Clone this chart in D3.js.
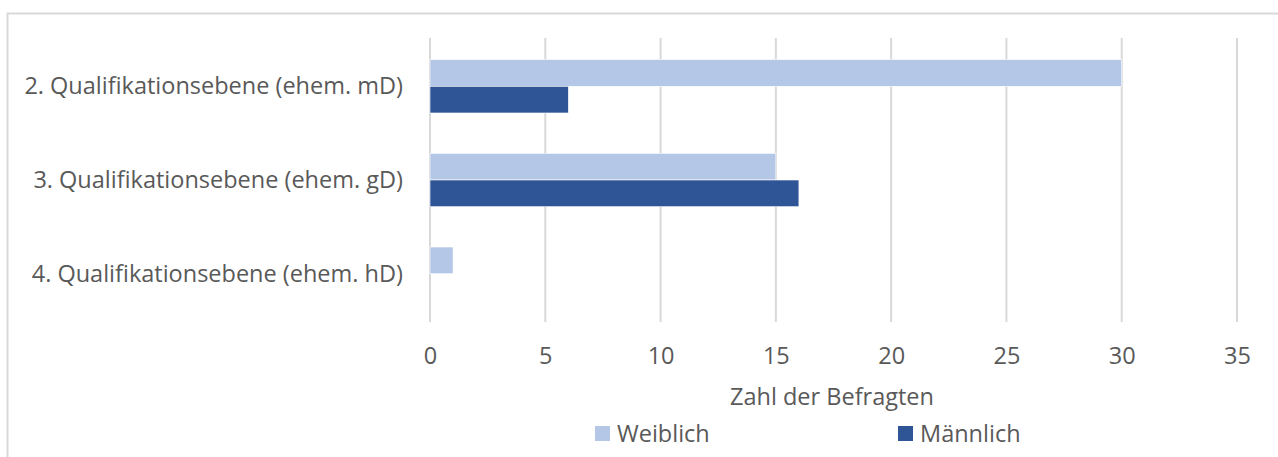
<!DOCTYPE html>
<html>
<head>
<meta charset="utf-8">
<script src="https://cdn.jsdelivr.net/npm/d3@7"></script>
<style>
  body { margin: 0; background: #fff; }
  svg { display: block; font-family: "Open Sans", sans-serif; }
</style>
</head>
<body>
<div id="chart"></div>
<script>
const categories = [
  "2. Qualifikationsebene (ehem. mD)",
  "3. Qualifikationsebene (ehem. gD)",
  "4. Qualifikationsebene (ehem. hD)"
];
const seriesNames = ["Weiblich", "Männlich"];
const weiblich = [30, 15, 1];
const maennlich = [6, 16, 0];
const xTicks = [0, 5, 10, 15, 20, 25, 30, 35];
const colors = ["#b4c7e7", "#2f5597"];

const W = 1278, H = 457;
const plotL = 430, plotR = 1237, plotT = 38, plotB = 322;
const fontSize = 23.5;

const svg = d3.select("#chart").append("svg").attr("width", W).attr("height", H);

// Rahmen (nur oben und links sichtbar)
svg.append("path")
    .attr("d", `M7.5,${H} V13.5 H${W}`)
    .attr("fill", "none").attr("stroke", "#d9d9d9").attr("stroke-width", 2);

const x = d3.scaleLinear().domain([0, 35]).range([plotL, plotR]);
const y = d3.scaleBand().domain(categories).range([plotT, plotB]).paddingInner(0.43).paddingOuter(0.23);
const ySub = d3.scaleBand().domain(seriesNames).range([0, y.bandwidth()]);

// Gitterlinien
svg.append("g").selectAll("line").data(xTicks).join("line")
    .attr("x1", d => x(d)).attr("x2", d => x(d))
    .attr("y1", plotT).attr("y2", plotB)
    .attr("stroke", "#d9d9d9").attr("stroke-width", 2);

// Balken
const rows = categories.map((c, i) => ({ c, vals: [weiblich[i], maennlich[i]] }));
const groups = svg.append("g").selectAll("g").data(rows).join("g")
    .attr("transform", d => `translate(0,${y(d.c)})`);
groups.selectAll("rect").data(d => d.vals.map((v, j) => ({ v, s: seriesNames[j], j })))
    .join("rect")
    .attr("x", x(0))
    .attr("y", d => ySub(d.s))
    .attr("width", d => x(d.v) - x(0))
    .attr("height", ySub.bandwidth())
    .attr("fill", d => colors[d.j])
    .attr("stroke", d => d.v > 0 ? "#fff" : "none")
    .attr("stroke-width", 0.6);

// Kategorienbeschriftung
svg.append("g").selectAll("text").data(categories).join("text")
    .attr("x", 403)
    .attr("y", d => y(d) + y.bandwidth() / 2)
    .attr("dy", "0.35em")
    .attr("text-anchor", "end")
    .attr("font-size", fontSize)
    .attr("fill", "#595959")
    .text(d => d);

// x-Achse
const xAxis = svg.append("g")
    .attr("transform", `translate(0,${plotB})`)
    .call(d3.axisBottom(x).tickValues(xTicks).tickSize(0).tickPadding(25));
xAxis.select(".domain").remove();
xAxis.selectAll("text").attr("font-size", fontSize).attr("fill", "#595959").attr("font-family", "'Open Sans', sans-serif");

// Achsentitel
svg.append("text")
    .attr("x", 832)
    .attr("y", 405)
    .attr("text-anchor", "middle")
    .attr("font-size", fontSize)
    .attr("fill", "#595959")
    .text("Zahl der Befragten");

// Legende
const legendX = [595, 898];
const legend = svg.append("g").selectAll("g").data(seriesNames).join("g")
    .attr("transform", (d, i) => `translate(${legendX[i]},426)`);
legend.append("rect").attr("width", 15).attr("height", 15).attr("fill", (d, i) => colors[i]);
legend.append("text")
    .attr("x", 22).attr("y", 8).attr("dy", "0.35em")
    .attr("font-size", fontSize).attr("fill", "#595959")
    .text(d => d);
</script>
</body>
</html>
